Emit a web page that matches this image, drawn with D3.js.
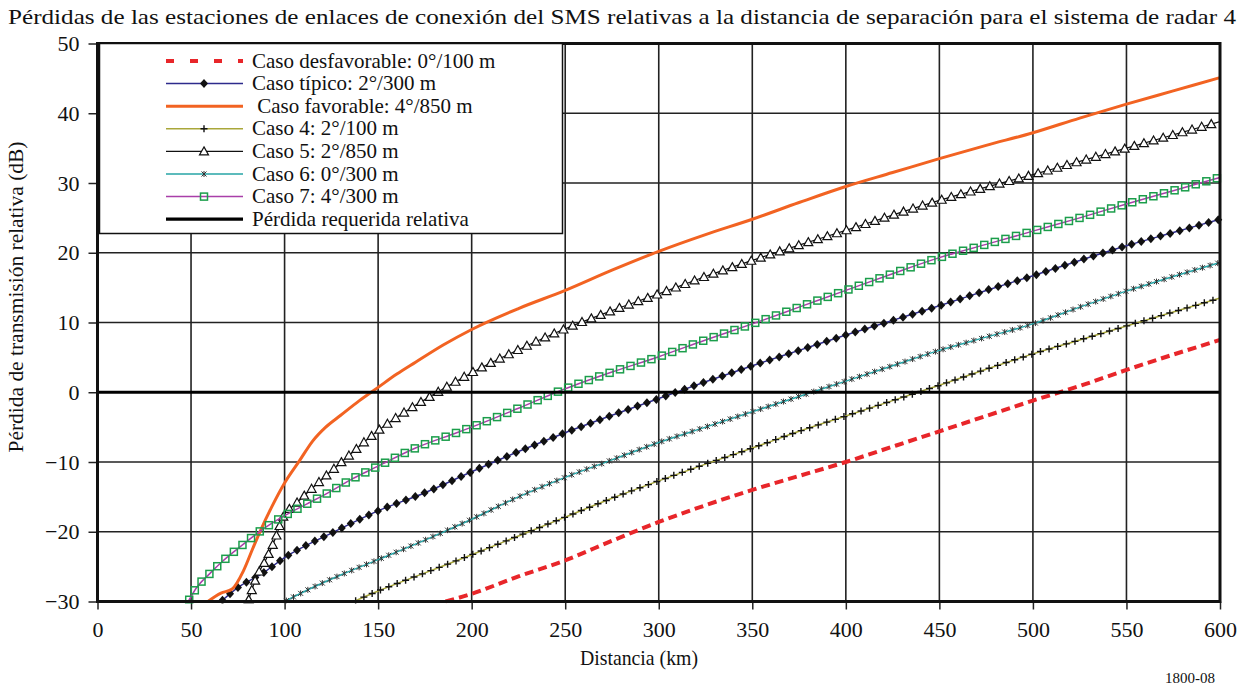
<!DOCTYPE html>
<html>
<head>
<meta charset="utf-8">
<script src="https://cdn.jsdelivr.net/npm/d3@7"></script>
<style>
body{margin:0;background:#fff;}
text{font-family:"Liberation Serif","Times New Roman",serif;fill:#111;}
</style>
</head>
<body>
<div id="chart"></div>
<script>
// valores (km, dB)
var xTicks = [0,50,100,150,200,250,300,350,400,450,500,550,600];
var yTicks = [50,40,30,20,10,0,-10,-20,-30];

var desfavKm  = [186,200,225,250,275,300,325,350,375,400,425,450,475,500,525,550,575,600];
var desfavVal = [-30,-28.9,-26.4,-24.1,-21.3,-18.6,-16.2,-14,-12,-10,-7.8,-5.6,-3.4,-1.2,0.9,3.2,5.4,7.5];

var tipicoKm  = [66,75,88,100,125,150,175,200,225,250,275,300,325,350,375,400,425,450,475,500,525,550,575,600];
var tipicoVal = [-30,-28,-26,-23.7,-20.2,-17,-14.4,-11.4,-8.5,-5.8,-3.3,-0.9,1.5,3.8,6,8.2,10.3,12.4,14.6,16.7,18.9,21,22.9,24.8];

var favorKm  = [59,66,72,78,83,87,93,100,108,115,122,130,140,150,160,170,185,200,225,250,275,300,325,350,375,400,425,450,475,500,525,550,575,600];
var favorVal = [-30,-28.8,-28.2,-25.6,-22.4,-19.9,-16.5,-13,-9.8,-7,-5,-3.3,-1.2,0.7,2.6,4.3,6.8,9,12,14.6,17.5,20.2,22.6,24.8,27.2,29.5,31.5,33.5,35.4,37.2,39.3,41.3,43.2,45.1];

var caso4Km  = [137,150,175,200,225,250,275,300,325,350,375,400,425,450,475,500,525,550,575,600];
var caso4Val = [-30,-28.5,-25.9,-23.3,-20.6,-17.9,-15.2,-12.7,-10.3,-8,-5.6,-3.4,-1.2,1,3.3,5.5,7.5,9.5,11.5,13.5];

var caso5Km  = [80.5,85,90,95,99,106,115,125,133,150,168,183,200,225,250,275,300,325,350,375,400,425,450,475,500,525,550,575,600];
var caso5Val = [-30,-26.5,-24,-21,-18,-16,-13.7,-11.3,-9.4,-5.5,-2.2,0.2,2.8,6.1,9.1,11.7,14.1,16.6,18.9,21.1,23.2,25.4,27.5,29.4,31.2,33.1,35,36.9,38.8];

var caso6Km  = [100,115,130,150,175,200,225,250,275,300,325,350,375,400,425,450,475,500,525,550,575,600];
var caso6Val = [-30,-28,-26.2,-24,-21.2,-18.2,-15,-12.2,-9.7,-7.2,-5,-2.8,-0.6,1.6,3.8,6,7.9,9.8,12.2,14.5,16.6,18.6];

var caso7Km  = [48.5,53,60,67,77,87,100,112,122,135,150,170,192,200,225,250,275,300,325,350,375,400,425,450,475,500,525,550,575,600];
var caso7Val = [-30,-28,-26,-24.2,-22,-19.9,-17.7,-16,-14.6,-12.6,-10.6,-8,-5.8,-5,-2.3,0.5,2.9,5.1,7.5,9.8,12.2,14.6,17,19.3,21.2,23.1,25,27,28.9,30.8];

var requeridaKm  = [0,600];
var requeridaVal = [0,0];

var labels = ["Caso desfavorable: 0°/100 m","Caso típico: 2°/300 m"," Caso favorable: 4°/850 m","Caso 4: 2°/100 m",
              "Caso 5: 2°/850 m","Caso 6: 0°/300 m","Caso 7: 4°/300 m","Pérdida requerida relativa"];

var series = [
  {km:desfavKm, val:desfavVal, color:"#e8262a", width:4, dash:"9,5", legDash:"8,16", marker:null},
  {km:tipicoKm, val:tipicoVal, color:"#2d2b8c", width:1.5, marker:"diamond", gap:10},
  {km:favorKm, val:favorVal, color:"#f26322", width:3, marker:null},
  {km:caso4Km, val:caso4Val, color:"#a9a73a", width:1.5, marker:"plus", gap:9},
  {km:caso5Km, val:caso5Val, color:"#111", width:1.2, marker:"triangle", gap:10},
  {km:caso6Km, val:caso6Val, color:"#26a4a6", width:1.5, marker:"star", gap:8},
  {km:caso7Km, val:caso7Val, color:"#a93fa9", width:1.5, marker:"square", gap:11},
  {km:requeridaKm, val:requeridaVal, color:"#000", width:3.2, marker:null}
];

var W = 1244, H = 687;
var pLeft = 97.5, pRight = 1220, pTop = 43.5, pBottom = 601.5;

var svg = d3.select("#chart").append("svg")
  .attr("width",W).attr("height",H);

var x = d3.scaleLinear().domain([0,600]).range([pLeft,pRight]);
var y = d3.scaleLinear().domain([-30,50]).range([pBottom,pTop]);

// titulo
svg.append("text")
  .attr("x",622).attr("y",24)
  .attr("text-anchor","middle")
  .attr("font-size","21px")
  .attr("textLength",1228).attr("lengthAdjust","spacingAndGlyphs")
  .text("Pérdidas de las estaciones de enlaces de conexión del SMS relativas a la distancia de separación para el sistema de radar 4");

// rejilla
svg.append("g").selectAll("line").data(xTicks).enter().append("line")
  .attr("x1",function(d){return x(d);}).attr("x2",function(d){return x(d);})
  .attr("y1",pTop).attr("y2",pBottom)
  .attr("stroke","#222").attr("stroke-width",1.6);
svg.append("g").selectAll("line").data(yTicks).enter().append("line")
  .attr("x1",pLeft).attr("x2",pRight)
  .attr("y1",function(d){return y(d);}).attr("y2",function(d){return y(d);})
  .attr("stroke","#222").attr("stroke-width",1.6);

// ejes
var xAxis = svg.append("g")
  .attr("transform","translate(0,"+pBottom+")")
  .call(d3.axisBottom(x).tickValues(xTicks).tickSize(8).tickPadding(12).tickFormat(d3.format("d")));
var yAxis = svg.append("g")
  .attr("transform","translate("+pLeft+",0)")
  .call(d3.axisLeft(y).tickValues(yTicks).tickSize(9).tickPadding(9)
    .tickFormat(function(d){return d<0 ? "\u2212"+(-d) : d;}));
[xAxis,yAxis].forEach(function(a){
  a.select(".domain").remove();
  a.selectAll(".tick line").attr("stroke","#222").attr("stroke-width",1.5);
  a.selectAll(".tick text").attr("font-size","22px").attr("font-family","Liberation Serif").attr("fill","#111");
});

svg.append("defs").append("clipPath").attr("id","plotclip")
  .append("rect").attr("x",pLeft).attr("y",pTop-2).attr("width",pRight-pLeft+5).attr("height",pBottom-pTop+4);

var line = d3.line().curve(d3.curveMonotoneX);
var plot = svg.append("g").attr("clip-path","url(#plotclip)");

function drawMarker(g,type,px,py){
  if(type=="diamond"){
    g.append("path").attr("d","M"+px+","+(py-4.5)+"L"+(px+4)+","+py+"L"+px+","+(py+4.5)+"L"+(px-4)+","+py+"Z")
      .attr("fill","#111");
  }else if(type=="plus"){
    g.append("path").attr("d","M"+(px-3.5)+","+py+"H"+(px+3.5)+"M"+px+","+(py-3.5)+"V"+(py+3.5))
      .attr("stroke","#111").attr("stroke-width",1.4);
  }else if(type=="triangle"){
    g.append("path").attr("d","M"+px+","+(py-4.5)+"L"+(px+4.5)+","+(py+3.5)+"L"+(px-4.5)+","+(py+3.5)+"Z")
      .attr("fill","#fff").attr("stroke","#111").attr("stroke-width",1.2);
  }else if(type=="star"){
    g.append("path").attr("d","M"+(px-2.5)+","+(py-2.5)+"L"+(px+2.5)+","+(py+2.5)+"M"+(px+2.5)+","+(py-2.5)+"L"+(px-2.5)+","+(py+2.5)+"M"+px+","+(py-3)+"V"+(py+3))
      .attr("stroke","#333").attr("stroke-width",1);
  }else if(type=="square"){
    g.append("rect").attr("x",px-3.5).attr("y",py-3.5).attr("width",7).attr("height",7)
      .attr("fill","none").attr("stroke","#1b9e4b").attr("stroke-width",1.5);
  }
}

series.forEach(function(s){
  var pts = s.km.map(function(k,i){return [x(k),y(s.val[i])];});
  var p = plot.append("path")
    .attr("d",line(pts))
    .attr("fill","none")
    .attr("stroke",s.color)
    .attr("stroke-width",s.width)
    .attr("stroke-dasharray",s.dash||null);
  if(s.marker){
    var node = p.node();
    var len = node.getTotalLength();
    var mg = plot.append("g");
    for(var l=2;l<len;l+=s.gap){
      var pt = node.getPointAtLength(l);
      if(pt.y>pBottom+2) continue;
      drawMarker(mg,s.marker,pt.x,pt.y);
    }
  }
});

// marco
svg.append("rect")
  .attr("x",pLeft).attr("y",pTop).attr("width",pRight-pLeft).attr("height",pBottom-pTop)
  .attr("fill","none").attr("stroke","#111").attr("stroke-width",3);

// leyenda
var lg = svg.append("g");
lg.append("rect").attr("x",pLeft+2).attr("y",pTop).attr("width",463).attr("height",190)
  .attr("fill","#fff").attr("stroke","#111").attr("stroke-width",1.5);
labels.forEach(function(t,i){
  var s = series[i];
  var ry = 61 + i*22.6;
  lg.append("line").attr("x1",166).attr("x2",243).attr("y1",ry).attr("y2",ry)
    .attr("stroke",s.color).attr("stroke-width",s.width)
    .attr("stroke-dasharray",s.legDash||null);
  if(s.marker) drawMarker(lg,s.marker,204,ry);
  lg.append("text").attr("x",252).attr("y",ry+6.5)
    .attr("font-size","21px")
    .style("white-space","pre")
    .text(t);
});

// titulos de ejes
svg.append("text").attr("x",639).attr("y",665)
  .attr("text-anchor","middle").attr("font-size","22px")
  .attr("textLength",118).attr("lengthAdjust","spacingAndGlyphs")
  .text("Distancia (km)");
svg.append("text")
  .attr("transform","translate(23,297) rotate(-90)")
  .attr("text-anchor","middle").attr("font-size","22px")
  .attr("textLength",311).attr("lengthAdjust","spacingAndGlyphs")
  .text("Pérdida de transmisión relativa (dB)");
svg.append("text").attr("x",1190).attr("y",683)
  .attr("text-anchor","middle").attr("font-size","15px")
  .text("1800-08");
</script>
</body>
</html>
